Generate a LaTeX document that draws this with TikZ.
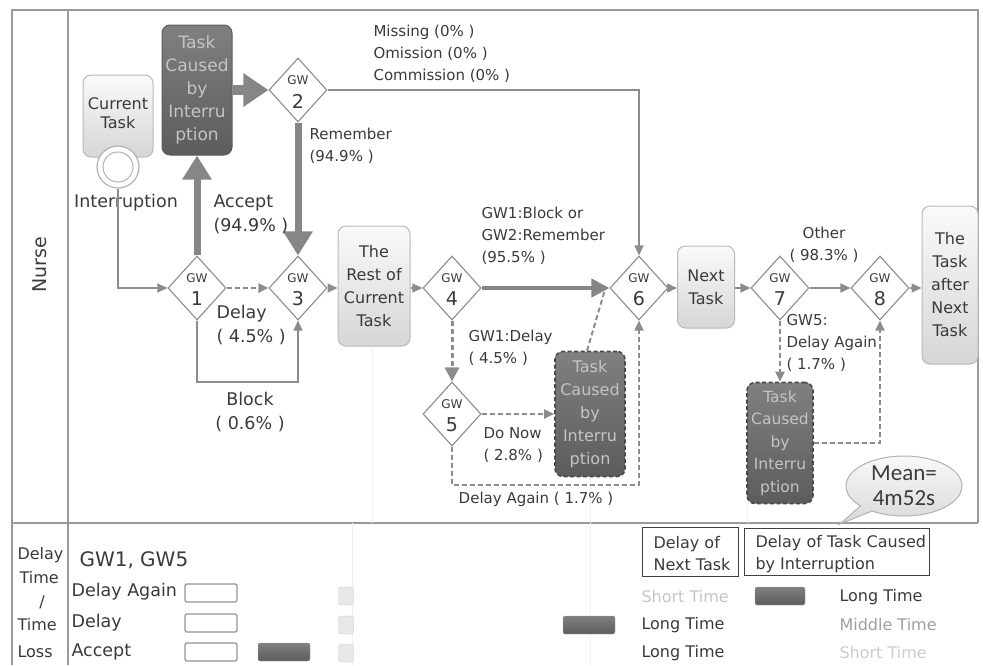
\documentclass[tikz,border=0pt]{standalone}
\usepackage{fontspec}
\setmainfont{DejaVu Sans}
\newfontfamily\calib{Carlito}
\usetikzlibrary{shapes.geometric,shapes.callouts,arrows.meta}
\definecolor{ln}{HTML}{8C8C8C}
\definecolor{tx}{HTML}{3A3A3A}
\definecolor{dktop}{HTML}{808080}
\definecolor{dkbot}{HTML}{5C5C5C}
\definecolor{dtx}{HTML}{C4C4C4}
\definecolor{frame}{HTML}{9A9A9A}
\begin{document}
\begin{tikzpicture}[x=1pt,y=-1pt,
  every node/.style={text=tx},
  frm/.style={draw=frame,line width=1.5pt},
  guide/.style={draw=black!6,line width=1pt},
  gw/.style={diamond,draw=ln,line width=1.1pt,fill=white,minimum width=58pt,minimum height=64pt,inner sep=0pt},
  gwa/.style={font=\fontsize{12}{12}\selectfont},
  gwb/.style={font=\fontsize{19}{19}\selectfont},
  lbox/.style={draw=gray!55,line width=1pt,rounded corners=8pt,top color=gray!4,bottom color=gray!32,align=center,font=\fontsize{16}{23}\selectfont,inner sep=0pt},
  dbox/.style={draw=dkbot,line width=1pt,rounded corners=8pt,top color=dktop,bottom color=dkbot,align=center,text=dtx,font=\fontsize{16}{23}\selectfont,inner sep=0pt},
  dashbox/.style={dbox,dashed,draw=dkbot!80!black,line width=1.6pt,dash pattern=on 4pt off 2.5pt},
  flow/.style={draw=ln,line width=1.4pt,-{Triangle[length=10pt,width=9pt]}},
  dflow/.style={flow,line width=2pt,dash pattern=on 5pt off 3pt},
  thk/.style={draw=gray!95,line width=7pt,-{Triangle[length=24pt,width=28pt]}},
  lbl/.style={font=\fontsize{15}{22}\selectfont,align=left},
  lblc/.style={font=\fontsize{15}{22}\selectfont,align=center},
  big/.style={font=\fontsize{17.5}{24}\selectfont,align=left},
  leg/.style={font=\fontsize{16}{22}\selectfont,anchor=west},
  lw/.style={draw=gray!85,line width=1.2pt,fill=white,rounded corners=2pt,minimum width=52pt,minimum height=18pt,inner sep=0pt},
  ld/.style={draw=gray!70,top color=dktop,bottom color=dkbot,rounded corners=2pt,minimum width=52pt,minimum height=18pt,inner sep=0pt},
  ls/.style={draw=gray!45,fill=gray!18,rounded corners=3pt,minimum width=15pt,minimum height=18pt,inner sep=0pt}
]
\useasboundingbox (0,0) rectangle (983,665);
% frame
\draw[frm] (12,665) -- (12,10) -- (978,10) -- (978,523);
\draw[frm] (68,10) -- (68,665);
\draw[frm] (12,523) -- (978,523);
% faint guide lines
\draw[guide] (372,345) -- (372,523);
\draw[guide] (352,523) -- (352,665);
\draw[guide] (590,477) -- (590,665);
\draw[guide] (747,503) -- (747,523);
% lane label
\node[rotate=90,font=\fontsize{19}{19}\selectfont] (nurse) at (40,265) {Nurse};

% gateways
\node[gw] (g1) at (197,288) {};
\node[gw] (g2) at (298,90) {};
\node[gw] (g3) at (298,288) {};
\node[gw] (g4) at (452,288) {};
\node[gw] (g5) at (452,414) {};
\node[gw] (g6) at (639,288) {};
\node[gw] (g7) at (780,288) {};
\node[gw] (g8) at (880,288) {};
\foreach \g/\n in {g1/1,g2/2,g3/3,g4/4,g5/5,g6/6,g7/7,g8/8}{
  \node[gwa] at ([yshift=10pt]\g.center) {GW};
  \node[gwb] at ([yshift=-11pt]\g.center) {\n};
}

% tasks
\node[lbox,minimum width=70pt,minimum height=82pt] (cur) at (118,116) {\raisebox{6pt}{\shortstack{Current\\[4pt]Task}}};
\node[circle,draw=gray!60,line width=1.2pt,fill=white,minimum size=42pt,inner sep=0pt] (intr) at (118,167) {};
\node[circle,draw=gray!60,line width=1pt,minimum size=30pt,inner sep=0pt] (intrin) at (118,167) {};
\node[big] (intrl) at (126,203) {Interruption};
\node[dbox,minimum width=70pt,minimum height=130pt,font=\fontsize{17}{23}\selectfont] (t1) at (197,90) {Task\\Caused\\by\\Interru\\ption};
\node[lbox,minimum width=72pt,minimum height=120pt] (rest) at (374,286) {The\\Rest of\\Current\\Task};
\node[dashbox,minimum width=70pt,minimum height=125pt] (mid) at (590,414) {Task\\Caused\\by\\Interru\\ption};
\node[lbox,minimum width=57pt,minimum height=82pt] (next) at (706,287) {Next\\Task};
\node[dashbox,minimum width=66pt,minimum height=121pt,font=\fontsize{15.5}{22.5}\selectfont] (br) at (780,443) {Task\\Caused\\by\\Interru\\ption};
\node[lbox,minimum width=56pt,minimum height=158pt] (after) at (950,285) {The\\Task\\after\\Next\\Task};

% connectors
\draw[draw=gray!95,line width=10pt,-{Triangle[length=25pt,width=32pt]}] (t1.east) -- (g2.west);
\draw[thk] (g1.north) -- (t1.south);
\draw[thk] (g2.south) -- (g3.north);
\draw[flow] (intr.south) |- (g1.west);
\coordinate (blk) at (197,382);
\draw[flow] (g1.south) -- (blk) -| (g3.south);
\draw[dflow,line width=2.6pt] (g1.east) -- (g3.west);
\draw[flow] (g3.east) -- (g3.east -| rest.west);
\draw[flow] (rest.east |- g4.west) -- (g4.west);
\draw[draw=gray!95,line width=4pt,-{Triangle[length=18pt,width=18pt]}] (g4.east) -- (g6.west);
\draw[dflow,line width=3pt,-{Triangle[length=14pt,width=14pt]}] (g4.south) -- (g5.north);
\draw[dflow] (g5.east) -- (g5.east -| mid.west);
\draw[draw=ln,line width=2pt,dash pattern=on 5pt off 3pt] ([xshift=-3pt]mid.north) -- ([xshift=-4pt]g6.west);
\coordinate (da) at (452,485);
\draw[dflow] (g5.south) -- (da) -| (g6.south);
\draw[draw=ln,line width=1.1pt,-{Triangle[length=10pt,width=9pt]}] (g2.east) -| (g6.north);
\draw[flow] (g6.east) -- (g6.east -| next.west);
\draw[flow] (next.east |- g7.west) -- (g7.west);
\draw[flow] (g7.east) -- (g8.west);
\draw[flow] (g8.east) -- (g8.east -| after.west);
\draw[dflow] (g7.south) -- (br.north);
\draw[dflow] (br.east) -| (g8.south);

% labels
\node[big,anchor=west] (lacc) at (210,214) {Accept\\(94.9\% )};
\node[big,anchor=west] (ldel) at (213,325) {Delay\\( 4.5\% )};
\node[big,align=center] (lblk) at (250,412) {Block\\( 0.6\% )};
\node[lbl,anchor=west] (lrem) at (306,146) {Remember\\(94.9\% )};
\node[lbl,anchor=west] (lmis) at (370,54) {Missing (0\% )\\Omission (0\% )\\Commission (0\% )};
\node[lbl,anchor=west] (lblo) at (478,236) {GW1:Block or\\GW2:Remember\\(95.5\% )};
\node[lbl,anchor=west] (lgd) at (465,348) {GW1:Delay\\( 4.5\% )};
\node[lbl,anchor=west] (ldn) at (480,445) {Do Now\\( 2.8\% )};
\node[lbl] (lda) at (536,499) {Delay Again ( 1.7\% )};
\node[lblc] (loth) at (824,245) {Other\\( 98.3\% )};
\node[lbl,anchor=west] (lg5) at (783,343) {GW5:\\Delay Again\\( 1.7\% )};

% callout
\coordinate (mtip) at (840,524);
\node[ellipse callout,draw=gray!60,line width=1pt,top color=gray!5,bottom color=gray!30,minimum width=116pt,minimum height=60pt,inner sep=0pt,callout absolute pointer={(mtip)},align=center,font=\calib\fontsize{23}{25}\selectfont] (mean) at (904,486) {Mean=\\4m52s};

% bottom legend
\node[font=\fontsize{16}{16}\selectfont,anchor=west] (dt1) at (14,555) {Delay};
\node[font=\fontsize{16}{16}\selectfont,anchor=west] (dt2) at (16,578) {Time};
\node[font=\fontsize{16}{16}\selectfont] (dt3) at (42,602) {/};
\node[font=\fontsize{16}{16}\selectfont,anchor=west] (dt4) at (14,625) {Time};
\node[font=\fontsize{16}{16}\selectfont,anchor=west] (dt5) at (14,652) {Loss};
\node[font=\fontsize{20}{20}\selectfont,anchor=west] (gwl) at (76,560) {GW1, GW5};
\node[font=\fontsize{17.5}{18}\selectfont,anchor=west] (r1) at (68,592) {Delay Again};
\node[font=\fontsize{17.5}{18}\selectfont,anchor=west] (r2) at (68,623) {Delay};
\node[font=\fontsize{17.5}{18}\selectfont,anchor=west] (r3) at (68,652) {Accept};
\node[lw] (w1) at (211,593) {};
\node[lw] (w2) at (211,623) {};
\node[lw] (w3) at (211,652) {};
\node[ld] (d1) at (284,652) {};
\node[ls] (s1) at (346,596) {};
\node[ls] (s2) at (346,625) {};
\node[ls] (s3) at (346,653) {};
\node[ld] (d2) at (589,625) {};
\node[draw=black!75,line width=1pt,minimum width=96pt,minimum height=49pt,inner sep=0pt] (bx1) at (690,552) {};
\node[font=\fontsize{16}{22}\selectfont,align=left,anchor=west] at (650,554) {Delay of\\Next Task};
\node[draw=black!75,line width=1pt,minimum width=185pt,minimum height=47pt,inner sep=0pt] (bx2) at (837,552) {};
\node[font=\fontsize{16}{22}\selectfont,align=left,anchor=west] at (752,554) {Delay of Task Caused\\by Interruption};
\node[leg,text=gray!45] (st1) at (638,597) {Short Time};
\node[leg] (lt1) at (638,625) {Long Time};
\node[leg] (lt2) at (638,653) {Long Time};
\node[ld,minimum width=50pt] (d3) at (780,596) {};
\node[leg] (lt3) at (836,597) {Long Time};
\node[leg,text=gray!75] (mt) at (836,625) {Middle Time};
\node[leg,text=gray!40] (st2) at (836,653) {Short Time};
\end{tikzpicture}
\end{document}
